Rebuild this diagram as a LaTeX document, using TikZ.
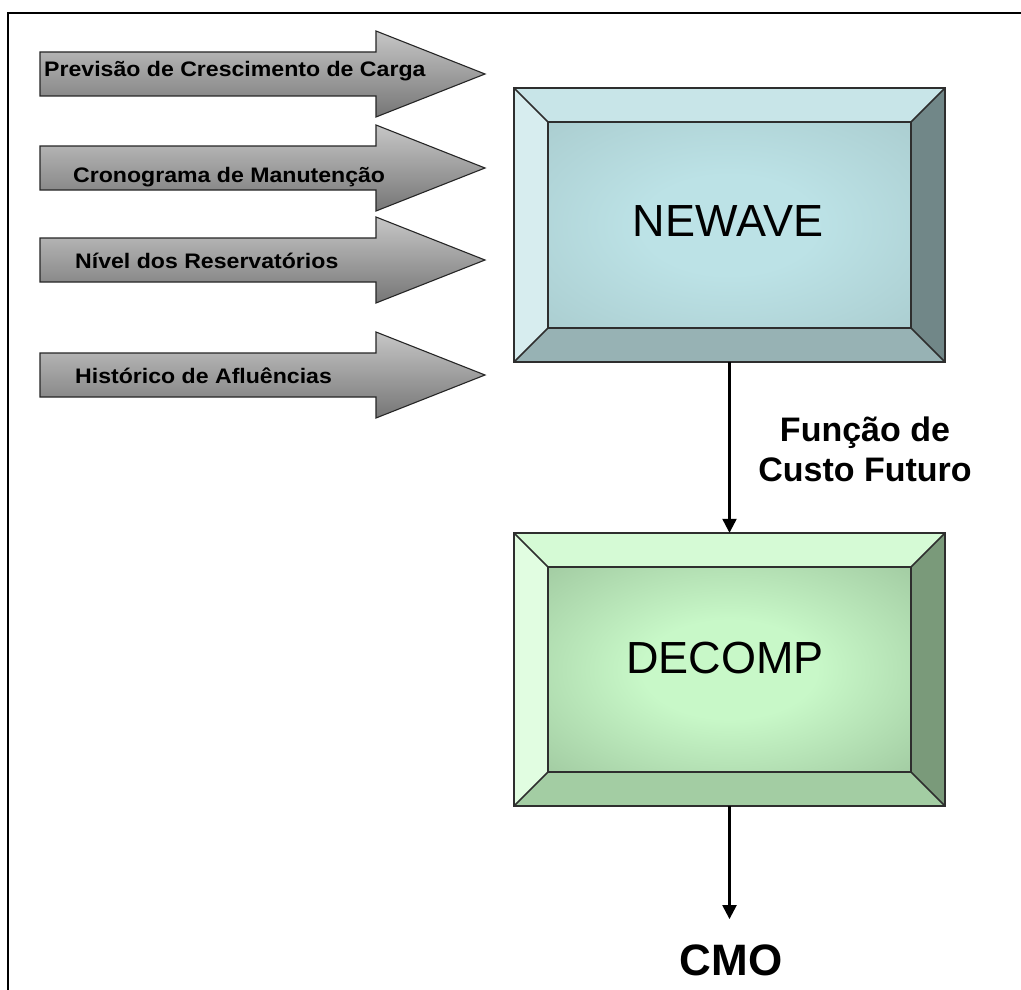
\documentclass[tikz,border=0pt]{standalone}
\usepackage{fontspec}
\usepackage{graphicx}
\setmainfont{Liberation Sans}
\usetikzlibrary{calc,arrows.meta}
\definecolor{nwtop}{HTML}{C8E5E8}
\definecolor{nwleft}{HTML}{D7EDEF}
\definecolor{nwright}{HTML}{718788}
\definecolor{nwbot}{HTML}{97B2B4}
\definecolor{nwedge}{HTML}{A2C3C5}
\definecolor{nwcen}{HTML}{BCE2E6}
\definecolor{dctop}{HTML}{D5FAD5}
\definecolor{dcleft}{HTML}{E1FDE1}
\definecolor{dcright}{HTML}{7A9A7A}
\definecolor{dcbot}{HTML}{A3CDA3}
\definecolor{dcedge}{HTML}{8FB58F}
\definecolor{dccen}{HTML}{C8F8C8}
\definecolor{edgeline}{HTML}{2E2E2E}
\definecolor{arrtop}{HTML}{C6C6C6}
\definecolor{arrmid}{HTML}{ABABAB}
\definecolor{arrbot}{HTML}{767676}
\pgfdeclareradialshading{nwshade}{\pgfpoint{0bp}{0bp}}{color(0bp)=(nwcen); color(12bp)=(nwcen); color(48bp)=(nwedge); color(100bp)=(nwedge)}
\pgfdeclareradialshading{dcshade}{\pgfpoint{0bp}{0bp}}{color(0bp)=(dccen); color(12bp)=(dccen); color(48bp)=(dcedge); color(100bp)=(dcedge)}
\newcommand\bevelbox[6]{%
  \fill[#2] (#1.north west) -- (#1.north east) -- ($(#1.north east)+(-34,34)$) -- ($(#1.north west)+(34,34)$) -- cycle;
  \fill[#3] (#1.north west) -- ($(#1.north west)+(34,34)$) -- ($(#1.south west)+(34,-34)$) -- (#1.south west) -- cycle;
  \fill[#4] (#1.north east) -- ($(#1.north east)+(-34,34)$) -- ($(#1.south east)+(-34,-34)$) -- (#1.south east) -- cycle;
  \fill[#5] (#1.south west) -- ($(#1.south west)+(34,-34)$) -- ($(#1.south east)+(-34,-34)$) -- (#1.south east) -- cycle;
  \shade[shading=#6] ($(#1.north west)+(34,34)$) rectangle ($(#1.south east)+(-34,-34)$);
  \draw[boxline] (#1.north west) rectangle (#1.south east);
  \draw[boxline] ($(#1.north west)+(34,34)$) rectangle ($(#1.south east)+(-34,-34)$);
  \draw[boxline] (#1.north west) -- ($(#1.north west)+(34,34)$);
  \draw[boxline] (#1.north east) -- ($(#1.north east)+(-34,34)$);
  \draw[boxline] (#1.south west) -- ($(#1.south west)+(34,-34)$);
  \draw[boxline] (#1.south east) -- ($(#1.south east)+(-34,-34)$);
}
\newcommand\inarrow[5]{%
  \shade[arrowfill] (40,#1-22) -- (376,#1-22) -- (376,#1-43) -- (485,#1) -- (376,#1+43) -- (376,#1+22) -- (40,#1+22) -- cycle;
  \node[intext] (#2) at (#3,#4) {\scalebox{1.1}[1]{#5}};
}
\begin{document}
\begin{tikzpicture}[x=1pt,y=-1pt,
  boxline/.style={draw=edgeline, line width=1.5pt},
  arrowfill/.style={top color=arrtop, middle color=arrmid, bottom color=arrbot, draw=black!85, line width=1.1pt},
  intext/.style={anchor=base west, inner sep=0pt, font=\fontsize{21}{25}\selectfont\bfseries},
  boxnode/.style={inner sep=0pt, minimum width=431pt},
  boxtext/.style={anchor=base, inner sep=0pt, font=\fontsize{45}{50}\selectfont},
  flow/.style={line width=2.4pt, -{Triangle[width=14pt,length=14pt]}}]
\useasboundingbox (0,0) rectangle (1021,990);
\fill[white] (0,0) rectangle (1021,990);
\draw[line width=2.5pt] (1021,13) -- (8,13) -- (8,990);

\inarrow{74}{in1}{44}{77}{Previsão de Crescimento de Carga}
\inarrow{168}{in2}{73}{182}{Cronograma de Manutenção}
\inarrow{260}{in3}{75}{268}{Nível dos Reservatórios}
\inarrow{375}{in4}{75}{383}{Histórico de Afluências}

\node[boxnode, minimum height=274pt] (newave) at (729.5,225) {};
\bevelbox{newave}{nwtop}{nwleft}{nwright}{nwbot}{nwshade}
\node[boxtext] (newavet) at (728,236) {NEWAVE};

\node[boxnode, minimum height=273pt] (decomp) at (729.5,669.5) {};
\bevelbox{decomp}{dctop}{dcleft}{dcright}{dcbot}{dcshade}
\node[boxtext] (decompt) at (725,673) {DECOMP};

\node[inner sep=0pt, align=center, font=\fontsize{34}{40}\selectfont\bfseries] (fcf) at (865,449) {Função de\\Custo Futuro};

\node[anchor=base, inner sep=0pt, font=\fontsize{44}{50}\selectfont\bfseries] (cmo) at (731,975) {CMO};

\draw[flow] (newave.south) -- (decomp.north);
\draw[flow, shorten >=25pt] (decomp.south) -- (decomp.south |- cmo.north);
\end{tikzpicture}
\end{document}
